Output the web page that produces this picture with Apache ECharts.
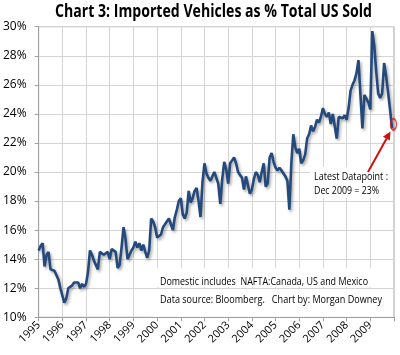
<!DOCTYPE html>
<html><head><meta charset="utf-8">
<script src="https://cdn.jsdelivr.net/npm/echarts@6/dist/echarts.min.js"></script>
<style>html,body{margin:0;padding:0;background:#fff}#c{width:400px;height:355px}</style>
</head><body><div id="c"></div>
<script>
// ---- data (monthly % of US vehicle sales that are imported) ----
const years = [1995,1996,1997,1998,1999,2000,2001,2002,2003,2004,2005,2006,2007,2008,2009];
const v1995 = [14.6,14.9,15.1,13.5,14.3,14.5,13.3,13.4,13.2,13.1,12.6,12.0];
const v1996 = [11.9,11.0,11.3,12.0,11.9,12.2,12.4,12.5,12.4,12.0,12.3,12.1];
const v1997 = [12.3,13.1,14.6,14.3,13.9,14.0,13.3,14.5,14.4,14.3,14.4,14.5];
const v1998 = [14.0,14.7,14.6,14.5,13.4,13.6,14.8,16.2,15.4,14.0,14.1,14.6];
const v1999 = [14.8,15.2,14.8,15.1,14.6,15.0,14.5,14.1,14.6,16.8,16.6,16.2];
const v2000 = [15.5,15.6,15.7,16.2,16.4,16.5,16.8,16.8,16.0,16.9,17.4,18.0];
const v2001 = [18.2,17.1,16.8,17.2,18.7,17.9,18.2,18.7,18.9,18.0,16.9,19.3];
const v2002 = [20.6,19.9,19.6,19.4,19.7,20.0,20.0,19.2,17.8,19.5,20.7,20.2];
const v2003 = [19.2,20.6,20.8,21.0,20.6,20.0,19.8,19.6,18.8,19.7,19.6,18.5];
const v2004 = [18.8,19.5,20.0,19.8,19.3,20.0,20.6,19.0,19.2,21.0,21.3,20.7];
const v2005 = [20.3,20.1,20.3,20.1,19.9,19.7,19.4,17.4,20.6,22.6,21.7,21.3];
const v2006 = [21.6,20.6,20.8,21.2,22.3,22.6,23.2,22.8,23.1,23.6,23.4,23.8];
const v2007 = [24.4,24.0,23.8,24.1,23.3,24.0,24.1,22.3,23.8,23.9,23.7,23.9];
const v2008 = [23.6,24.4,25.6,26.0,26.3,26.8,27.7,25.3,23.0,25.3,25.3,24.8];
const v2009 = [24.3,29.7,28.7,26.9,25.4,25.1,25.4,27.5,26.6,25.5,24.3,23.0];
const yearLabels = ['1995','1996','1997','1998','1999','2000','2001','2002','2003','2004','2005','2006','2007','2008','2009'];
const yTickValues = [10,12,14,16,18,20,22,24,26,28,30];

const titleText = 'Chart 3: Imported Vehicles as % Total US Sold';
const note1 = 'Domestic includes  NAFTA:Canada, US and Mexico';
const note2 = 'Data source: Bloomberg.   Chart by: Morgan Downey';
const annot1 = 'Latest Datapoint :';
const annot2 = 'Dec 2009 = 23%';

// ---- build series ----
const monthly = [v1995,v1996,v1997,v1998,v1999,v2000,v2001,v2002,v2003,v2004,v2005,v2006,v2007,v2008,v2009];
const data = [];
monthly.forEach((arr, yi) => arr.forEach((v, m) => data.push([years[yi] + m / 12, v])));
const last = data[data.length - 1];

// text fitting helper (emulates narrow Calibri widths)
const mctx = document.createElement('canvas').getContext('2d');
function fitScale(text, font, w) { mctx.font = font; return w / mctx.measureText(text).width; }
function txt(text, x, y, font, width, color) {
  return { type: 'text', x: x, y: y, scaleX: fitScale(text, font, width), z: 20,
    style: { text: text, font: font, fill: color || '#000', align: 'left', verticalAlign: 'middle' } };
}

const F = 'Open Sans';
const titleFont = 'bold 17px "' + F + '"';
const noteFont = '11px "' + F + '"';

const chart = echarts.init(document.getElementById('c'), null, { renderer: 'canvas' });
chart.setOption({
  animation: false,
  backgroundColor: '#fff',
  grid: { left: 37.5, right: 6, top: 26.7, bottom: 37.7, show: true, borderColor: '#a0a0a0', borderWidth: 1, containLabel: false },
  xAxis: {
    type: 'value', min: 1995, max: 2010, interval: 1,
    axisLine: { show: true, onZero: false, lineStyle: { color: '#a0a0a0' } },
    axisTick: { show: true, length: 4, lineStyle: { color: '#a0a0a0' } },
    splitLine: { show: true, lineStyle: { color: '#d4d4d4', width: 1 } },
    axisLabel: {
      rotate: 45, margin: 6, color: '#000', fontFamily: F, fontSize: 11,
      formatter: v => { const i = Math.round(v) - years[0]; return (i >= 0 && i < yearLabels.length) ? yearLabels[i] : ''; }
    }
  },
  yAxis: {
    type: 'value', min: yTickValues[0], max: yTickValues[yTickValues.length - 1], interval: 2,
    axisLine: { show: true, lineStyle: { color: '#a0a0a0' } },
    axisTick: { show: true, length: 4, lineStyle: { color: '#a0a0a0' } },
    splitLine: { show: true, lineStyle: { color: '#d4d4d4', width: 1 } },
    axisLabel: { margin: 12, color: '#000', fontFamily: F, fontSize: 12, formatter: '{value}%' }
  },
  series: [
    { type: 'line', data: data, symbol: 'none', z: 3,
      lineStyle: { color: '#24497c', width: 2.6, shadowColor: 'rgba(0,0,0,0.35)', shadowBlur: 3, shadowOffsetX: 1.5, shadowOffsetY: 2 } },
    { type: 'scatter', data: [last], symbol: 'circle', symbolSize: [6, 11], symbolOffset: [1.5, -4], z: 5,
      itemStyle: { color: 'rgba(255,255,255,0)', borderColor: '#e01818', borderWidth: 1.6 } }
  ],
  graphic: [
    txt(titleText, 55, 12, titleFont, 317),
    { type: 'rect', z: 10, shape: { x: 150, y: 268, width: 243, height: 19 }, style: { fill: '#fff' } },
    { type: 'rect', z: 10, shape: { x: 150, y: 289, width: 243, height: 27.5 }, style: { fill: '#fff' } },
    txt(note1, 160, 282, noteFont, 208),
    txt(note2, 160, 300, noteFont, 222),
    { type: 'rect', z: 10, shape: { x: 310, y: 167, width: 83, height: 31 }, style: { fill: '#fff' } },
    txt(annot1, 314, 176.5, noteFont, 74),
    txt(annot2, 314, 190.5, noteFont, 65),
    { type: 'line', z: 21, shape: { x1: 368, y1: 172, x2: 386.6, y2: 138.5 }, style: { stroke: '#d01010', lineWidth: 2 } },
    { type: 'polygon', z: 21, shape: { points: [[390.5, 131.5], [389.8, 140.6], [382.9, 136.7]] }, style: { fill: '#d01010' } }
  ]
});
</script></body></html>
